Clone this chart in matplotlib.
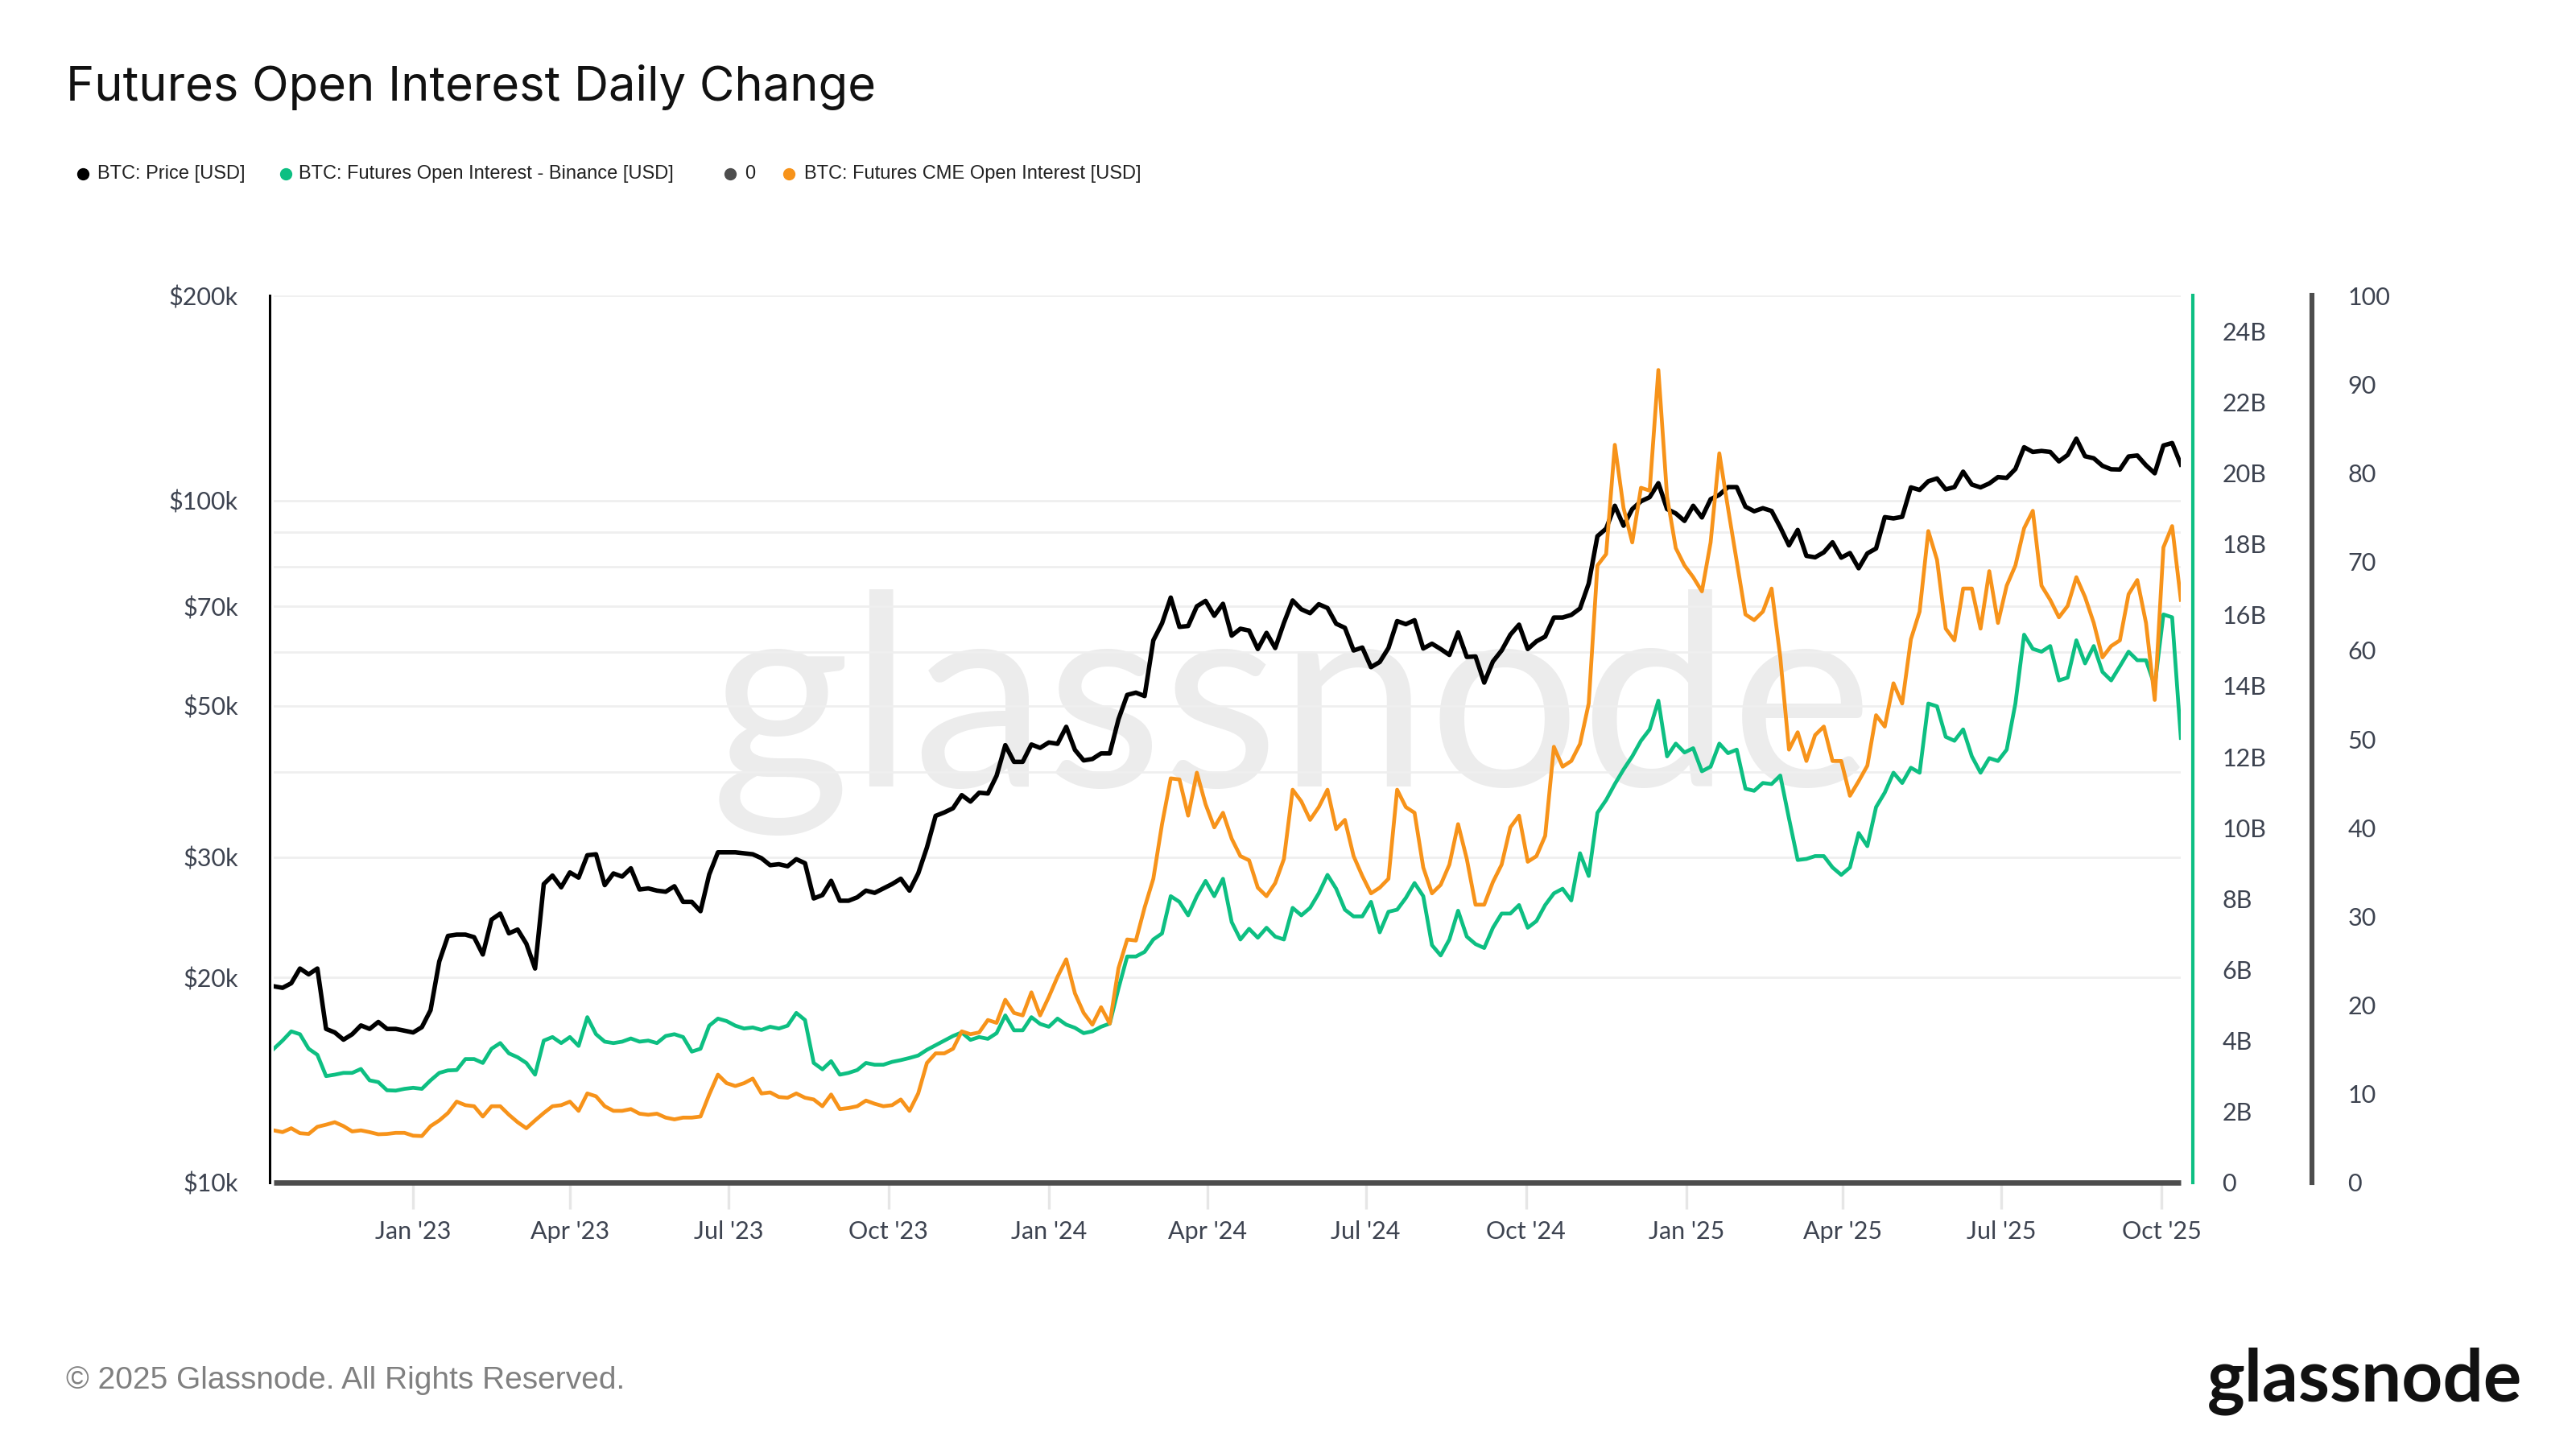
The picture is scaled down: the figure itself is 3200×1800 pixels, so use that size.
import numpy as np
import pandas as pd
import matplotlib
matplotlib.use("Agg")
import matplotlib.pyplot as plt
from matplotlib.lines import Line2D
from matplotlib.ticker import FixedLocator, NullFormatter

# ---- data: one sample every 5 days, last sample 2025-10-12 ----
# BTC price, thousand USD
price_k = [
    19.4, 19.3, 19.6, 20.6, 20.2, 20.6, 16.8, 16.6, 16.2, 16.5,
    17.0, 16.8, 17.2, 16.8, 16.8, 16.7, 16.6, 16.9, 17.9, 21.1,
    23.0, 23.1, 23.1, 22.9, 21.6, 24.3, 24.8, 23.2, 23.5, 22.4,
    20.6, 27.4, 28.2, 27.1, 28.5, 28.0, 30.2, 30.3, 27.3, 28.4,
    28.1, 28.9, 26.9, 27.0, 26.8, 26.7, 27.2, 25.8, 25.8, 25.0,
    28.3, 30.5, 30.5, 30.5, 30.4, 30.3, 29.9, 29.2, 29.3, 29.1,
    29.8, 29.4, 26.1, 26.4, 27.7, 25.9, 25.9, 26.2, 26.8, 26.6,
    27.0, 27.4, 27.9, 26.8, 28.4, 31.0, 34.5, 34.9, 35.4, 37.0,
    36.2, 37.3, 37.2, 39.5, 43.8, 41.4, 41.4, 43.9, 43.4, 44.2,
    44.0, 46.6, 43.1, 41.6, 41.8, 42.6, 42.6, 47.8, 51.9, 52.3,
    51.7, 62.4, 66.1, 72.1, 65.3, 65.5, 70.0, 71.3, 67.8, 70.6,
    63.4, 64.9, 64.5, 60.6, 64.0, 60.8, 66.2, 71.4, 69.3, 68.4,
    70.5, 69.6, 66.0, 65.1, 60.3, 60.9, 57.0, 58.0, 60.8, 66.6,
    65.9, 66.8, 60.7, 61.7, 60.6, 59.4, 64.1, 59.0, 59.1, 54.1,
    58.1, 60.3, 63.6, 65.8, 60.6, 62.2, 63.2, 67.4, 67.4, 68.0,
    69.5, 75.6, 88.7, 91.0, 98.3, 91.9, 97.2, 99.8, 101.2, 106.1,
    97.2, 95.8, 93.4, 98.3, 94.5, 100.5, 102.0, 104.7, 104.7, 98.0,
    96.5, 97.5, 96.6, 91.4, 86.0, 90.6, 83.0, 82.6, 84.0, 86.9,
    82.5, 83.8, 79.6, 83.7, 85.1, 94.6, 94.2, 94.7, 104.6, 103.7,
    106.8, 107.8, 103.9, 104.7, 110.3, 105.6, 104.6, 106.0, 108.3, 108.0,
    111.3, 119.8, 117.9, 118.3, 117.9, 114.2, 116.7, 123.3, 116.2, 115.4,
    112.5, 111.2, 111.1, 116.1, 116.5, 112.7, 109.7, 120.5, 121.5, 113.0,
]

# Binance futures open interest, billion USD
binance_oi_b = [
    3.77, 4.0, 4.26, 4.18, 3.77, 3.6, 3.0, 3.04, 3.09, 3.09,
    3.2, 2.88, 2.83, 2.6, 2.59, 2.64, 2.67, 2.64, 2.88, 3.09,
    3.16, 3.17, 3.48, 3.48, 3.37, 3.77, 3.93, 3.64, 3.53, 3.37,
    3.04, 4.0, 4.1, 3.93, 4.1, 3.85, 4.66, 4.18, 3.97, 3.93,
    3.97, 4.06, 3.97, 4.0, 3.93, 4.13, 4.18, 4.1, 3.69, 3.77,
    4.42, 4.62, 4.55, 4.42, 4.34, 4.37, 4.3, 4.39, 4.34, 4.42,
    4.78, 4.58, 3.37, 3.19, 3.42, 3.04, 3.09, 3.17, 3.37, 3.32,
    3.32, 3.4, 3.45, 3.51, 3.58, 3.74, 3.87, 4.0, 4.13, 4.23,
    4.02, 4.1, 4.05, 4.21, 4.71, 4.29, 4.29, 4.66, 4.47, 4.39,
    4.62, 4.45, 4.36, 4.21, 4.26, 4.39, 4.48, 5.47, 6.37, 6.37,
    6.5, 6.85, 7.02, 8.07, 7.91, 7.53, 8.07, 8.5, 8.07, 8.56,
    7.34, 6.85, 7.15, 6.9, 7.18, 6.93, 6.85, 7.74, 7.53, 7.74,
    8.15, 8.67, 8.28, 7.69, 7.5, 7.5, 7.91, 7.05, 7.63, 7.69,
    8.02, 8.44, 8.07, 6.69, 6.4, 6.85, 7.66, 6.93, 6.72, 6.61,
    7.18, 7.58, 7.58, 7.82, 7.18, 7.37, 7.82, 8.15, 8.28, 7.95,
    9.28, 8.64, 10.42, 10.78, 11.23, 11.64, 12.01, 12.45, 12.77, 13.58,
    12.01, 12.37, 12.12, 12.24, 11.59, 11.72, 12.37, 12.1, 12.2, 11.1,
    11.04, 11.26, 11.23, 11.47, 10.26, 9.09, 9.12, 9.2, 9.2, 8.88,
    8.67, 8.88, 9.85, 9.48, 10.58, 10.99, 11.55, 11.26, 11.69, 11.55,
    13.5, 13.42, 12.56, 12.45, 12.77, 12.01, 11.55, 11.96, 11.88, 12.2,
    13.5, 15.44, 15.04, 14.96, 15.12, 14.15, 14.23, 15.28, 14.63, 15.12,
    14.39, 14.15, 14.55, 14.96, 14.72, 14.72, 14.0, 16.01, 15.93, 12.53,
]

# CME futures open interest, billion USD
cme_oi_b = [
    1.47, 1.42, 1.53, 1.39, 1.37, 1.57, 1.63, 1.7, 1.59, 1.44,
    1.47, 1.42, 1.36, 1.37, 1.4, 1.4, 1.32, 1.31, 1.59, 1.75,
    1.96, 2.28, 2.18, 2.15, 1.86, 2.15, 2.15, 1.91, 1.70, 1.53,
    1.75, 1.96, 2.15, 2.18, 2.28, 2.02, 2.51, 2.43, 2.15, 2.02,
    2.02, 2.07, 1.94, 1.91, 1.94, 1.83, 1.78, 1.83, 1.83, 1.86,
    2.48, 3.04, 2.8, 2.72, 2.8, 2.93, 2.51, 2.54, 2.41, 2.39,
    2.51, 2.39, 2.34, 2.15, 2.48, 2.07, 2.1, 2.15, 2.31, 2.22,
    2.15, 2.18, 2.34, 2.02, 2.51, 3.37, 3.64, 3.64, 3.77, 4.26,
    4.18, 4.23, 4.58, 4.5, 5.15, 4.78, 4.71, 5.36, 4.71, 5.23,
    5.8, 6.29, 5.33, 4.78, 4.45, 4.94, 4.48, 6.04, 6.85, 6.82,
    7.75, 8.56, 10.1, 11.39, 11.36, 10.34, 11.55, 10.66, 10.01, 10.42,
    9.69, 9.2, 9.08, 8.31, 8.07, 8.44, 9.12, 11.07, 10.74, 10.22,
    10.58, 11.07, 9.96, 10.22, 9.2, 8.64, 8.15, 8.31, 8.56, 11.07,
    10.58, 10.42, 8.88, 8.15, 8.39, 8.96, 10.1, 9.12, 7.83, 7.83,
    8.47, 8.96, 10.01, 10.34, 9.04, 9.2, 9.77, 12.28, 11.72, 11.88,
    12.36, 13.5, 17.39, 17.71, 20.79, 19.01, 18.04, 19.58, 19.5, 22.9,
    19.33, 17.88, 17.39, 17.06, 16.66, 18.04, 20.55, 19.0, 17.5, 16.01,
    15.85, 16.09, 16.74, 14.8, 12.2, 12.69, 11.88, 12.61, 12.85, 11.88,
    11.88, 10.9, 11.31, 11.75, 13.17, 12.85, 14.07, 13.5, 15.31, 16.09,
    18.36, 17.55, 15.61, 15.28, 16.74, 16.74, 15.61, 17.23, 15.77, 16.82,
    17.39, 18.44, 18.93, 16.82, 16.42, 15.93, 16.25, 17.06, 16.5, 15.77,
    14.8, 15.12, 15.28, 16.58, 16.98, 15.77, 13.6, 17.9, 18.5, 16.42,
]

price_ticks = [10, 20, 30, 50, 70, 100, 200]
price_grid = [40, 60, 80, 90]
oi_ticks = list(range(0, 25, 2))
right_ticks = list(range(0, 101, 10))

GREEN = "#0dbf82"
ORANGE = "#f7931a"
GREY = "#4d4d4d"
TICK_COLOR = "#3d4350"
TICK_FONT = ["Lato", "DejaVu Sans"]
TICK_SIZE = 11


def sample_dates(n):
    return pd.date_range(end="2025-10-12", periods=n, freq="5D")


d_price = sample_dates(len(price_k))
d_bin = sample_dates(len(binance_oi_b))
d_cme = sample_dates(len(cme_oi_b))

fig = plt.figure(figsize=(16, 9), dpi=200)
ax = fig.add_axes([0.1063, 0.1839, 0.7403, 0.6122])
ax_oi = ax.twinx()
ax_z = ax.twinx()

# watermark
ax.text(0.534, 0.53, "glassnode", transform=ax.transAxes, ha="center", va="center",
        fontsize=120, color="#ececec", family=["Lato", "DejaVu Sans"], zorder=0.5)

ax.plot(d_price, price_k, color="black", lw=2.0, zorder=3)
ax_oi.plot(d_bin, binance_oi_b, color=GREEN, lw=1.7)
ax_oi.plot(d_cme, cme_oi_b, color=ORANGE, lw=1.7)
ax_z.plot([d_price[0], d_price[-1]], [0, 0], color=GREY, lw=2.4, clip_on=False,
          solid_capstyle="butt")

ax.set_xlim(d_price[0], d_price[-1])

# left log axis
ax.set_yscale("log")
ax.set_ylim(10, 200)
ax.yaxis.set_major_locator(FixedLocator(price_ticks))
ax.yaxis.set_minor_locator(FixedLocator(price_grid))
ax.yaxis.set_minor_formatter(NullFormatter())
ax.set_yticklabels([f"${v}k" for v in price_ticks])
ax.grid(True, which="both", axis="y", color="#efefef", lw=1.0)
ax.tick_params(axis="y", which="both", length=0, pad=14, labelsize=TICK_SIZE,
               labelcolor=TICK_COLOR)

# x axis
xt = pd.date_range("2023-01-01", "2025-10-01", freq="QS")
ax.set_xticks(xt)
ax.set_xticklabels([f"{d:%b} '{d:%y}" for d in xt])
ax.tick_params(axis="x", length=12, width=1.2, color="#e6e6e6", pad=5,
               labelsize=TICK_SIZE, labelcolor=TICK_COLOR)

for s in ["top", "right", "bottom"]:
    ax.spines[s].set_visible(False)
ax.spines["left"].set_position(("outward", 2))
ax.spines["left"].set_linewidth(1.1)
ax.spines["left"].set_color("black")

# OI axis (green)
ax_oi.set_ylim(0, 25)
ax_oi.set_yticks(oi_ticks)
ax_oi.set_yticklabels(["0"] + [f"{v}B" for v in oi_ticks[1:]])
ax_oi.tick_params(axis="y", length=0, pad=13, labelsize=TICK_SIZE, labelcolor=TICK_COLOR)
for s in ["top", "left", "bottom"]:
    ax_oi.spines[s].set_visible(False)
ax_oi.spines["right"].set_position(("outward", 5.4))
ax_oi.spines["right"].set_color(GREEN)
ax_oi.spines["right"].set_linewidth(1.5)

# 0..100 axis (grey)
ax_z.set_ylim(0, 100)
ax_z.set_yticks(right_ticks)
ax_z.tick_params(axis="y", length=0, pad=16, labelsize=TICK_SIZE, labelcolor=TICK_COLOR)
for s in ["top", "left", "bottom"]:
    ax_z.spines[s].set_visible(False)
ax_z.spines["right"].set_position(("outward", 58.7))
ax_z.spines["right"].set_color(GREY)
ax_z.spines["right"].set_linewidth(2.2)

for a in (ax, ax_oi, ax_z):
    for lab in a.get_yticklabels() + a.get_xticklabels():
        lab.set_family(TICK_FONT)

# title
fig.text(0.0256, 0.9396, "Futures Open Interest Daily Change", fontsize=21.5,
         va="center", family=["Inter", "DejaVu Sans"], color="#111111")

# legend row
legend_items = [
    ("BTC: Price [USD]", "black", 0.0321, 0.0378),
    ("BTC: Futures Open Interest - Binance [USD]", GREEN, 0.1109, 0.1160),
    ("0", GREY, 0.2833, 0.2891),
    ("BTC: Futures CME Open Interest [USD]", ORANGE, 0.3064, 0.3122),
]
for label, col, xd, xt_ in legend_items:
    fig.add_artist(Line2D([xd], [0.880], marker="o", markersize=4.5, color=col,
                          lw=0, transform=fig.transFigure))
    fig.text(xt_, 0.880, label, fontsize=8.5, va="center", color="#222222",
             family=["Liberation Sans", "DejaVu Sans"])

# footer
fig.text(0.0256, 0.047, "\u00a9 2025 Glassnode. All Rights Reserved.", fontsize=14,
         va="center", color="#808080", family=["Liberation Sans", "DejaVu Sans"])
fig.text(0.979, 0.047, "glassnode", fontsize=32, ha="right", va="center",
         weight="bold", color="#111111", family=["Lato", "DejaVu Sans"])

fig.savefig("out.png", dpi=200, facecolor="white")
